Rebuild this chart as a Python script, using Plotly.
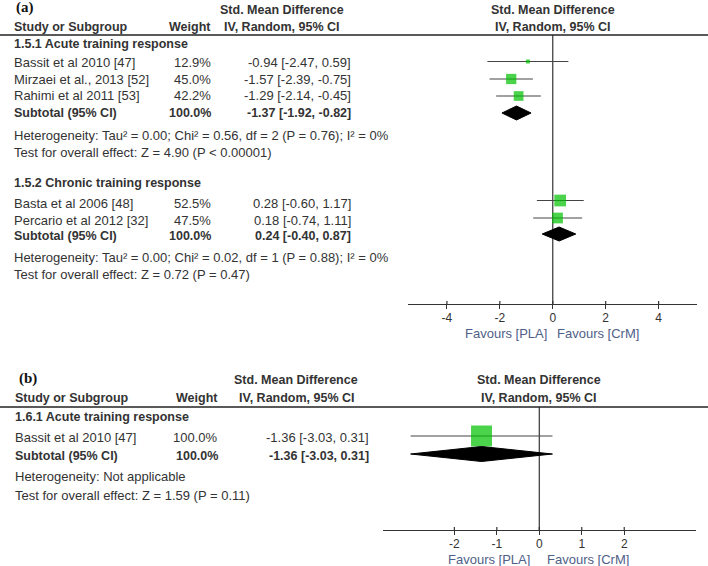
import plotly.graph_objects as go

W, H = 708, 566

# ---------------- data ----------------
acute_studies = ["Bassit et al 2010 [47]", "Mirzaei et al., 2013 [52]", "Rahimi et al 2011 [53]"]
acute_weight = [12.9, 45.0, 42.2]
acute_smd = [-0.94, -1.57, -1.29]
acute_lo = [-2.47, -2.39, -2.14]
acute_hi = [0.59, -0.75, -0.45]
acute_sub = [-1.37, -1.92, -0.82]
acute_sub_weight = 100.0
acute_het = "Heterogeneity: Tau² = 0.00; Chi² = 0.56, df = 2 (P = 0.76); I² = 0%"
acute_test = "Test for overall effect: Z = 4.90 (P < 0.00001)"

chronic_studies = ["Basta et al 2006 [48]", "Percario et al 2012 [32]"]
chronic_weight = [52.5, 47.5]
chronic_smd = [0.28, 0.18]
chronic_lo = [-0.60, -0.74]
chronic_hi = [1.17, 1.11]
chronic_sub = [0.24, -0.40, 0.87]
chronic_sub_weight = 100.0
chronic_het = "Heterogeneity: Tau² = 0.00; Chi² = 0.02, df = 1 (P = 0.88); I² = 0%"
chronic_test = "Test for overall effect: Z = 0.72 (P = 0.47)"

b_studies = ["Bassit et al 2010 [47]"]
b_weight = [100.0]
b_smd = [-1.36]
b_lo = [-3.03]
b_hi = [0.31]
b_sub = [-1.36, -3.03, 0.31]
b_sub_weight = 100.0
b_het = "Heterogeneity: Not applicable"
b_test = "Test for overall effect: Z = 1.59 (P = 0.11)"

ticks_a = [-4, -2, 0, 2, 4]
ticks_b = [-2, -1, 0, 1, 2]

# ---------------- style ----------------
FONT = "Liberation Sans, Arial, sans-serif"
TXT = "#333333"
FAV = "#4f6088"
GREEN = "#00c000"
FS = 13
FSB = 12.5

fig = go.Figure()
ann = []
shapes = []


def py(y):
    return 1 - y / H


def px(x):
    return x / W


def text(s, x, y, anchor="left", bold=False, size=None, color=TXT, family=FONT):
    if size is None:
        size = FSB if bold else FS
    if bold:
        s = "<b>" + s + "</b>"
    ann.append(dict(text=s, x=px(x), y=py(y), xref="paper", yref="paper",
                    xanchor=anchor, yanchor="middle", showarrow=False,
                    font=dict(family=family, size=size, color=color)))


def hrule(y):
    shapes.append(dict(type="line", xref="paper", yref="paper", x0=0, x1=1,
                       y0=py(y), y1=py(y), line=dict(color="#222222", width=1.5)))


def msize(w):
    return 1.5 + 0.195 * w


def study_trace(smd, lo, hi, weights, rows, xa, ya):
    fig.add_trace(go.Scatter(
        x=smd, y=rows, mode="markers", xaxis=xa, yaxis=ya,
        marker=dict(symbol="square", color=GREEN, size=[msize(w) for w in weights],
                    line=dict(width=0)),
        error_x=dict(type="data", symmetric=False,
                     array=[h - s for h, s in zip(hi, smd)],
                     arrayminus=[s - l for s, l in zip(smd, lo)],
                     width=0, thickness=1.2, color="#444444"),
        showlegend=False, hoverinfo="skip"))


def diamond(sub, yc, h, xa, ya):
    est, lo, hi = sub
    fig.add_trace(go.Scatter(
        x=[lo, est, hi, est, lo], y=[yc, yc - h / 2, yc, yc + h / 2, yc],
        mode="lines", fill="toself", fillcolor="black", line=dict(color="black", width=1),
        xaxis=xa, yaxis=ya, showlegend=False, hoverinfo="skip"))


def up_ticks(vals, y_axis, xa, ya):
    for v in vals:
        shapes.append(dict(type="line", xref=xa, yref=ya, x0=v, x1=v, y0=y_axis, y1=y_axis - 3,
                           line=dict(color="#333333", width=1.2)))


def fmt(s, l, h):
    return f"{s:.2f} [{l:.2f}, {h:.2f}]"


SERIF = "Liberation Serif, Times New Roman, serif"

# ---------------- panel (a) ----------------
text("(a)", 14, 8, bold=True, size=15, color="#111111", family=SERIF)
text("Std. Mean Difference", 282, 10, anchor="center", bold=True)
text("Study or Subgroup", 12, 27, bold=True)
text("Weight", 213, 27, anchor="right", bold=True)
text("IV, Random, 95% CI", 282, 27, anchor="center", bold=True)
text("Std. Mean Difference", 553, 10, anchor="center", bold=True)
text("IV, Random, 95% CI", 553, 27, anchor="center", bold=True)
hrule(35)

col_w_a, col_e_a = 213, 353
text("1.5.1 Acute training response", 12, 44, bold=True)
acute_rows = [62, 79, 96]
for s, w, m, l, h, y in zip(acute_studies, acute_weight, acute_smd, acute_lo, acute_hi, acute_rows):
    text(s, 12, y)
    text(f"{w:.1f}%", col_w_a, y, anchor="right")
    text(fmt(m, l, h), col_e_a, y, anchor="right")
text("Subtotal (95% CI)", 12, 113, bold=True)
text(f"{acute_sub_weight:.1f}%", col_w_a, 113, anchor="right", bold=True)
text(fmt(*acute_sub), col_e_a, 113, anchor="right", bold=True)
text(acute_het, 12, 135)
text(acute_test, 12, 153)

text("1.5.2 Chronic training response", 12, 183, bold=True)
chronic_rows = [203, 220]
for s, w, m, l, h, y in zip(chronic_studies, chronic_weight, chronic_smd, chronic_lo, chronic_hi, chronic_rows):
    text(s, 12, y)
    text(f"{w:.1f}%", col_w_a, y, anchor="right")
    text(fmt(m, l, h), col_e_a, y, anchor="right")
text("Subtotal (95% CI)", 12, 236, bold=True)
text(f"{chronic_sub_weight:.1f}%", col_w_a, 236, anchor="right", bold=True)
text(fmt(*chronic_sub), col_e_a, 236, anchor="right", bold=True)
text(chronic_het, 12, 257)
text(chronic_test, 12, 274)

study_trace(acute_smd, acute_lo, acute_hi, acute_weight, [61.5, 79, 96], "x", "y")
diamond(acute_sub, 113, 14, "x", "y")
study_trace(chronic_smd, chronic_lo, chronic_hi, chronic_weight, [200.5, 218], "x", "y")
diamond(chronic_sub, 234, 14, "x", "y")
shapes.append(dict(type="line", xref="x", yref="y", x0=0, x1=0, y0=35, y1=304,
                   line=dict(color="#333333", width=1.2), layer="below"))
up_ticks(ticks_a, 304, "x", "y")
text("Favours [PLA]", 506, 333, anchor="center", color=FAV)
text("Favours [CrM]", 598, 333, anchor="center", color=FAV)

# ---------------- panel (b) ----------------
text("(b)", 17, 378, bold=True, size=15, color="#111111", family=SERIF)
text("Std. Mean Difference", 296, 380, anchor="center", bold=True)
text("Study or Subgroup", 13, 398, bold=True)
text("Weight", 220, 398, anchor="right", bold=True)
text("IV, Random, 95% CI", 297, 398, anchor="center", bold=True)
text("Std. Mean Difference", 539, 380, anchor="center", bold=True)
text("IV, Random, 95% CI", 539, 398, anchor="center", bold=True)
hrule(407)

col_w_b, col_e_b = 220, 371
text("1.6.1 Acute training response", 13, 417, bold=True)
b_rows = [438]
for s, w, m, l, h, y in zip(b_studies, b_weight, b_smd, b_lo, b_hi, b_rows):
    text(s, 13, y)
    text(f"{w:.1f}%", col_w_b, y, anchor="right")
    text(fmt(m, l, h), col_e_b, y, anchor="right")
text("Subtotal (95% CI)", 13, 456, bold=True)
text(f"{b_sub_weight:.1f}%", col_w_b, 456, anchor="right", bold=True)
text(fmt(*b_sub), col_e_b, 456, anchor="right", bold=True)
text(b_het, 13, 476)
text(b_test, 13, 495)

study_trace(b_smd, b_lo, b_hi, b_weight, [436], "x2", "y2")
diamond(b_sub, 454, 15, "x2", "y2")
shapes.append(dict(type="line", xref="x2", yref="y2", x0=0, x1=0, y0=407, y1=530,
                   line=dict(color="#333333", width=1.2), layer="below"))
up_ticks(ticks_b, 530, "x2", "y2")
text("Favours [PLA]", 489, 559, anchor="center", color=FAV)
text("Favours [CrM]", 588, 559, anchor="center", color=FAV)

axis_common = dict(showline=True, linecolor="#333333", linewidth=1.2, ticks="outside",
                   ticklen=4, tickwidth=1.2, tickcolor="#333333", showgrid=False,
                   zeroline=False, tickfont=dict(family=FONT, size=12, color=TXT),
                   ticklabelstandoff=-2, fixedrange=True)

fig.update_layout(
    width=W, height=H, margin=dict(l=0, r=0, t=0, b=0),
    paper_bgcolor="white", plot_bgcolor="rgba(0,0,0,0)",
    xaxis=dict(domain=[408 / W, 697 / W], range=[-5.47, 5.45], anchor="y",
               tickvals=ticks_a, ticktext=[str(t) for t in ticks_a], **axis_common),
    yaxis=dict(domain=[py(304), py(35)], range=[304, 35], visible=False, fixedrange=True),
    xaxis2=dict(domain=[383 / W, 696 / W], range=[-3.68, 3.69], anchor="y2",
                tickvals=ticks_b, ticktext=[str(t) for t in ticks_b], **axis_common),
    yaxis2=dict(domain=[py(530), py(407)], range=[530, 407], visible=False, fixedrange=True),
    annotations=ann, shapes=shapes,
)

fig.write_html("out.html", config={"displayModeBar": False},
               post_script="document.body.style.margin='0';document.body.style.padding='0';")
